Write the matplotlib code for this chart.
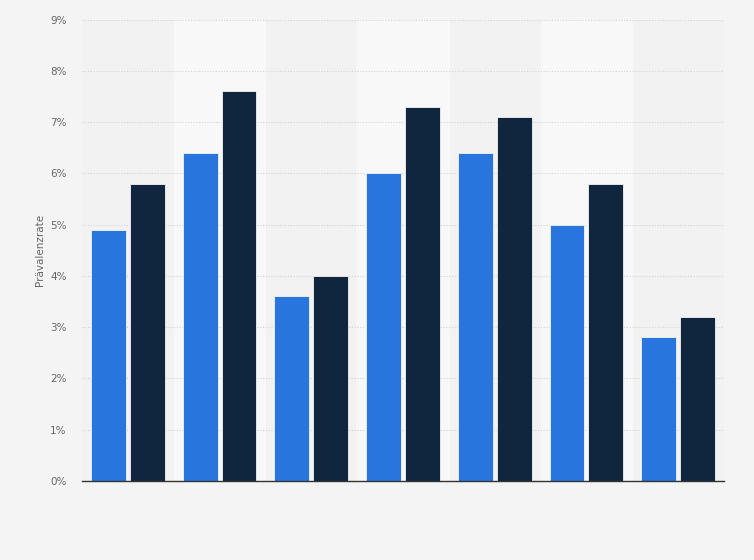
import matplotlib.pyplot as plt
import numpy as np

# prevalence rates in percent, two series per group
groups = ["1", "2", "3", "4", "5", "6", "7"]
series_a = [4.9, 6.4, 3.6, 6.0, 6.4, 5.0, 2.8]
series_b = [5.8, 7.6, 4.0, 7.3, 7.1, 5.8, 3.2]
yticks = [0, 1, 2, 3, 4, 5, 6, 7, 8, 9]

fig = plt.figure(figsize=(7.54, 5.6), dpi=100)
fig.patch.set_facecolor('#f4f4f4')
ax = fig.add_axes([0.1088, 0.141, 0.8514, 0.824])
ax.set_facecolor('#f2f2f2')

x = np.arange(len(groups))
w = 0.38
gap = 0.022

# lighter bands behind every second group
for i in x:
    if i % 2 == 1:
        ax.axvspan(i - 0.5, i + 0.5, color='#f8f8f8', zorder=0)

ax.bar(x - w / 2 - gap, series_a, width=w, color='#2876dd', edgecolor='#f4f4f4', linewidth=0.6, zorder=3)
ax.bar(x + w / 2 + gap, series_b, width=w, color='#10263e', edgecolor='#f4f4f4', linewidth=0.6, zorder=3)

ax.set_xlim(-0.5, len(groups) - 0.5)
ax.set_ylim(0, 9)
ax.set_yticks(yticks)
ax.set_yticklabels(["{}%".format(t) for t in yticks])
ax.set_xticks([])
ax.tick_params(axis='y', length=0, pad=11, labelsize=7.5, labelcolor='#666666')
ax.yaxis.grid(True, linestyle=(0, (1, 1.5)), color='#d2d2d2', linewidth=0.8, zorder=1)
ax.set_axisbelow(True)

for s in ['top', 'right', 'left']:
    ax.spines[s].set_visible(False)
ax.spines['bottom'].set_color('#333333')
ax.spines['bottom'].set_linewidth(1.0)
ax.spines['bottom'].set_zorder(4)

ax.set_ylabel("Prävalenzrate", fontsize=7.5, color='#666666', labelpad=4)

fig.savefig("out.png", dpi=100, facecolor=fig.get_facecolor())
